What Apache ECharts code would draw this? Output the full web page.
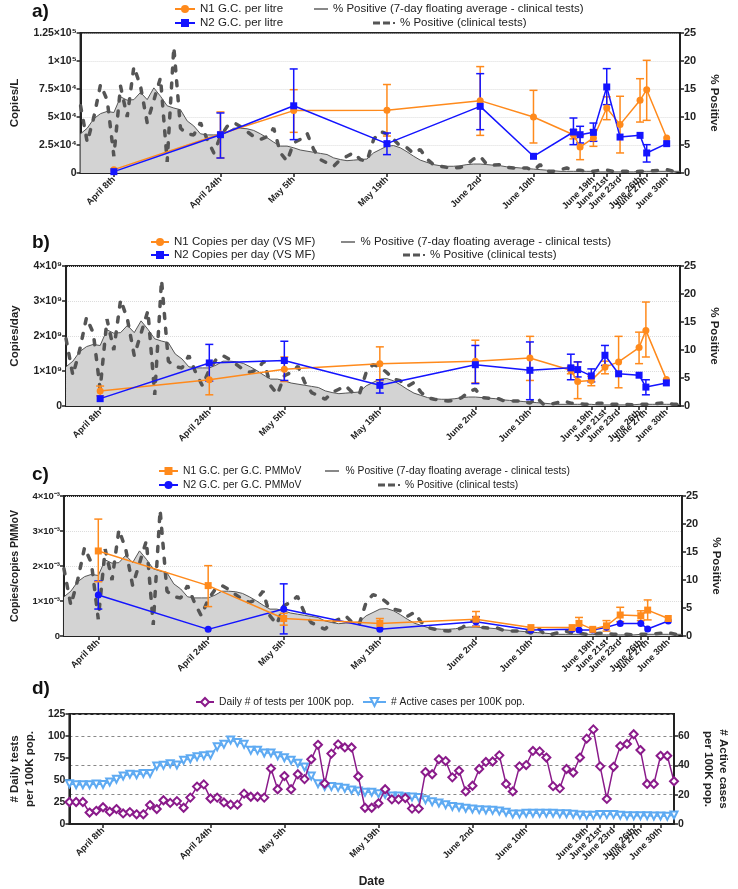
<!DOCTYPE html>
<html>
<head>
<meta charset="utf-8">
<script src="https://cdn.jsdelivr.net/npm/echarts/dist/echarts.min.js"></script>
<style>
  html, body { margin: 0; padding: 0; background: #fff; }
  #chart { width: 738px; height: 889px; }
</style>
</head>
<body>
<div id="chart"></div>
<script>
// x values are days counted from April 8th (day 0)
var tickDays = [0, 16, 27, 41, 55, 63, 72, 74, 76, 79, 80, 83];
var tickLabels = ['April 8th', 'April 24th', 'May 5th', 'May 19th', 'June 2nd', 'June 10th',
  'June 19th', 'June 21st', 'June 23rd', 'June 26th', 'June 27th', 'June 30th'];

// daily clinical series start on April 3rd (day -5)
var firstDay = -5;
var pctPositive7day = [
  7.0, 8.0, 9.7, 10.6, 11.0,
  10.8, 13.6, 13.0, 13.1, 14.4, 13.1, 15.2, 13.7, 12.0, 11.6,
  11.3, 9.3, 8.4, 7.0, 6.8, 6.8, 6.8, 7.3, 8.0, 8.0,
  7.9, 7.6, 7.0, 6.3, 5.5, 4.8, 4.8, 4.5, 4.1, 3.9,
  3.7, 3.5, 3.3, 2.7, 2.4, 2.2, 2.3, 2.4, 2.5, 3.6,
  4.2, 4.8, 4.9, 4.5, 3.8, 3.0, 2.3, 1.9, 1.5, 1.3,
  1.2, 1.2, 1.3, 1.5, 1.6, 1.6, 1.5, 1.4, 1.3, 1.1,
  1.0, 0.9, 0.8, 0.7, 0.6, 0.5, 0.4, 0.3, 0.3, 0.3,
  0.3, 0.3, 0.3, 0.2, 0.2, 0.2, 0.2, 0.2, 0.2, 0.3,
  0.3, 0.3, 0.3, 0.3, 0.3, 0.3
];
var pctPositiveDaily = [
  12.0, 5.5, 10.0, 15.8, 13.0,
  3.0, 15.5, 10.0, 19.0, 15.5, 9.0, 13.0, 17.0, 2.0, 22.5,
  8.0, 7.0, 6.8, 9.0, 6.0, 3.6, 6.5, 8.3, 9.0, 8.3,
  7.4, 6.5, 6.0, 6.5, 8.0, 3.6, 2.1, 5.4, 6.0, 7.1,
  4.2, 2.4, 1.8, 1.2, 2.4, 3.0, 3.6, 2.4, 2.1, 6.0,
  7.4, 7.0, 6.0, 4.8, 4.5, 3.5, 4.2, 2.5, 1.5, 1.2,
  1.0, 0.9, 1.0, 1.5, 2.5, 3.0, 1.5, 1.4, 1.5, 1.0,
  0.9, 0.9, 0.9, 0.5, 1.5, 0.3, 0.3, 0.6, 0.9, 0.5,
  0.5, 0.3, 0.3, 0.5, 0.5, 0.3, 0.3, 0.3, 0.2, 0.3,
  0.3, 0.4, 0.5, 0.6, 0.3, 0.3
];
var testsPer100k = [
  25, 25, 25, 13, 15,
  19, 14, 17, 12, 13.5, 11, 11, 21.5, 17, 27,
  24, 26, 18.5, 30, 42.5, 45, 29, 30, 24.5, 22,
  22, 34.5, 31, 31, 30, 63, 39.5, 54.5, 39.5, 56.5,
  51, 73.5, 90, 46, 80, 90.5, 87, 87, 54, 18.5,
  18.5, 23.5, 39.5, 28, 28, 29.5, 17.5, 17.5, 59, 56.5,
  73.5, 71.5, 53, 60.5, 37, 43.5, 62.5, 70.5, 71, 78,
  45.5, 37, 65.5, 67, 83, 82.5, 75.5, 43, 40.5, 62.5,
  58.5, 75.5, 97, 107.5, 65.5, 28.5, 65, 88.5, 91, 102,
  84, 45.5, 45.5, 77.5, 77.5, 48.5
];
var activePer100k = [
  27.5, 26.8, 26.8, 26.8, 27.3,
  27.0, 28.6, 30.5, 32.7, 33.9, 33.6, 34.5, 34.5, 39.5, 40.0,
  41.1, 40.2, 43.4, 44.5, 45.9, 46.6, 47.0, 52.7, 54.3, 57.3,
  55.5, 54.3, 50.2, 50.2, 48.4, 48.4, 46.6, 45.2, 43.4, 41.4,
  38.9, 32.7, 27.5, 25.5, 25.5, 25.0, 24.3, 23.2, 22.5, 21.6,
  21.6, 20.7, 20.2, 19.1, 19.1, 18.6, 18.4, 18.0, 16.6, 15.2,
  14.3, 13.2, 12.0, 11.4, 10.7, 10.2, 9.8, 9.5, 9.3, 8.9,
  8.0, 6.8, 6.8, 7.3, 7.3, 7.3, 7.3, 7.3, 7.0, 7.0,
  6.6, 6.1, 5.9, 5.9, 6.4, 6.4, 6.4, 5.9, 5.7, 5.7,
  5.7, 5.7, 5.5, 5.5, 5.2, 6.1
];

// wastewater sampling days
var sampleDays = [0, 16, 27, 41, 55, 63, 69, 70, 72, 74, 76, 79, 80, 83];

var n1PerLitre     = [3000, 34800, 55700, 56000, 64600, 50000, 34200, 23200, 31300, 58000, 43200, 64900, 74400, 31300];
var n1PerLitreLow  = [null, 13400, 36300, 33000, 33600, 26800, 30500, 11900, 23800, 47600, 17900, 45500, 47000, null];
var n1PerLitreHigh = [null, 54500, 74400, 79000, 95000, 73800, 38500, 33300, 38700, 68000, 68500, 84200, 100600, null];
var n2PerLitre     = [1200, 34200, 60000, 26200, 59500, 14900, 36600, 34200, 36300, 76800, 32100, 33600, 17900, 26200];
var n2PerLitreLow  = [null, 13400, 29800, 16400, 38700, null, 25300, 26800, 28300, 61000, null, null, 9800, null];
var n2PerLitreHigh = [null, 53600, 92900, 35700, 88700, null, 49100, 41700, 44600, 93200, null, null, 25300, null];

var n1PerDay     = [0.43e9, 0.75e9, 1.05e9, 1.21e9, 1.28e9, 1.37e9, 1.02e9, 0.70e9, 0.73e9, 1.11e9, 1.26e9, 1.67e9, 2.16e9, 0.76e9];
var n1PerDayLow  = [0.29e9, 0.32e9, 0.70e9, 0.73e9, 0.66e9, 0.73e9, 0.92e9, 0.21e9, 0.58e9, 0.92e9, 0.52e9, 1.21e9, 1.40e9, null];
var n1PerDayHigh = [0.57e9, 1.18e9, 1.40e9, 1.69e9, 1.88e9, 1.99e9, 1.13e9, 1.26e9, 0.85e9, 1.28e9, 1.99e9, 2.11e9, 2.97e9, null];
var n2PerDay     = [0.21e9, 1.23e9, 1.30e9, 0.59e9, 1.18e9, 1.02e9, 1.09e9, 1.04e9, 0.86e9, 1.45e9, 0.92e9, 0.88e9, 0.54e9, 0.66e9];
var n2PerDayLow  = [null, 0.71e9, 0.73e9, 0.37e9, 0.64e9, 0.18e9, 0.75e9, 0.83e9, 0.69e9, 1.16e9, null, null, 0.32e9, null];
var n2PerDayHigh = [null, 1.76e9, 1.85e9, 0.75e9, 1.73e9, 1.83e9, 1.48e9, 1.26e9, 1.06e9, 1.73e9, null, null, 0.75e9, null];

var n1PerPmmov     = [2.43e-3, 1.44e-3, 0.50e-3, 0.36e-3, 0.48e-3, 0.24e-3, 0.24e-3, 0.36e-3, 0.19e-3, 0.29e-3, 0.60e-3, 0.58e-3, 0.74e-3, 0.50e-3];
var n1PerPmmovLow  = [1.55e-3, 0.84e-3, 0.31e-3, 0.22e-3, 0.27e-3, null, null, 0.17e-3, null, 0.14e-3, 0.41e-3, 0.44e-3, 0.46e-3, null];
var n1PerPmmovHigh = [3.34e-3, 2.01e-3, 0.65e-3, 0.50e-3, 0.70e-3, null, null, 0.53e-3, null, 0.44e-3, 0.82e-3, 0.72e-3, 1.03e-3, null];
var n2PerPmmov     = [1.17e-3, 0.19e-3, 0.77e-3, 0.19e-3, 0.41e-3, 0.17e-3, 0.19e-3, 0.17e-3, 0.17e-3, 0.25e-3, 0.36e-3, 0.36e-3, 0.20e-3, 0.43e-3];
var n2PerPmmovLow  = [0.77e-3, null, 0.06e-3, null, 0.28e-3, null, null, null, null, null, null, null, null, null];
var n2PerPmmovHigh = [1.57e-3, null, 1.49e-3, null, 0.55e-3, null, null, null, null, null, null, null, null, null];

var ORANGE = '#ff8a1c', BLUE = '#1414ff', DARK = '#555555', FILL = '#d3d3d3';
var PURPLE = '#8a1a8a', SKY = '#5eaaf2';
var FONT = '"Liberation Sans", Arial, sans-serif';
var POS7 = '% Positive (7-day floating average - clinical tests)';
var POSD = '% Positive (clinical tests)';
var ICON_SOLID = 'path://M0,0H14V1.4H0Z';
var ICON_DASH = 'path://M0,0H7V3H0Z M10,0H17V3H10Z M20,0.5H22V2.5H20Z';

var dailyDays = [];
for (var k = 0; k < pctPositiveDaily.length; k++) dailyDays.push(firstDay + k);

function pairs(days, vals) {
  var out = [];
  for (var i = 0; i < days.length; i++) if (vals[i] != null) out.push([days[i], vals[i]]);
  return out;
}
function bars(days, lo, hi) {
  var out = [];
  for (var i = 0; i < days.length; i++) if (lo[i] != null && hi[i] != null) out.push([days[i], lo[i], hi[i]]);
  return out;
}

var SUP = { '-': '⁻', '0': '⁰', '1': '¹', '2': '²', '3': '³', '4': '⁴', '5': '⁵', '6': '⁶', '7': '⁷', '8': '⁸', '9': '⁹' };
function sci(v) {
  if (v === 0) return '0';
  var e = Math.floor(Math.log10(v) + 1e-9);
  var m = +(v / Math.pow(10, e)).toFixed(3);
  return m + '×10' + String(e).split('').map(function (c) { return SUP[c]; }).join('');
}

var chart = echarts.init(document.getElementById('chart'));

var grids = [
  { left: 57, right: 58, top: 33, height: 140 },
  { left: 61, right: 58, top: 266, height: 140 },
  { left: 61, right: 56, top: 496, height: 140 },
  { left: 61, right: 54, top: 714, height: 111 }
].map(function (g) {
  g.show = true; g.borderColor = '#222'; g.borderWidth = 2; g.backgroundColor = 'transparent';
  return g;
});

function xAxis(i) {
  return {
    type: 'value', gridIndex: i, min: -5, max: 85,
    axisLine: { show: true, onZero: false, lineStyle: { color: '#222', width: 2 } },
    axisTick: { show: true, customValues: tickDays, length: 4, lineStyle: { color: '#222', width: 1.5 } },
    axisLabel: {
      customValues: tickDays, rotate: 45, fontSize: 9, fontWeight: 'bold', color: '#222',
      fontFamily: FONT, margin: 5,
      formatter: function (v) { var j = tickDays.indexOf(v); return j < 0 ? '' : tickLabels[j]; }
    },
    splitLine: { show: false }
  };
}

function yAxis(i, pos, max, interval, name, gap, fmt, nameSize, split) {
  return {
    type: 'value', gridIndex: i, position: pos, min: 0, max: max, interval: interval,
    name: name, nameLocation: 'middle', nameGap: gap, nameRotate: pos === 'left' ? 90 : -90,
    nameTextStyle: { fontSize: nameSize, fontWeight: 'bold', color: '#222', fontFamily: FONT, lineHeight: nameSize + 3 },
    axisLine: { show: true, onZero: false, lineStyle: { color: '#222', width: 2 } },
    axisTick: { show: true, length: 4, lineStyle: { color: '#222', width: 1.5 } },
    axisLabel: { fontSize: pos === 'left' && fmt ? 10.5 : 11, fontWeight: 'bold', color: '#222', fontFamily: FONT, margin: 4, formatter: fmt },
    splitLine: split ? { show: true, lineStyle: split } : { show: false }
  };
}

var faintGrid = { color: '#dcdcdc', type: 'dotted', width: 1 };

var xAxes = [xAxis(0), xAxis(1), xAxis(2), xAxis(3)];
xAxes[3].name = 'Date';
xAxes[3].nameLocation = 'middle';
xAxes[3].nameGap = 52;
xAxes[3].nameTextStyle = { fontSize: 12, fontWeight: 'bold', color: '#222', fontFamily: FONT };

var yAxes = [
  yAxis(0, 'left', 125000, 25000, 'Copies/L', 41, sci, 11.5, faintGrid),
  yAxis(0, 'right', 25, 5, '% Positive', 25, null, 11.5, null),
  yAxis(1, 'left', 4e9, 1e9, 'Copies/day', 40, sci, 11.5, faintGrid),
  yAxis(1, 'right', 25, 5, '% Positive', 25, null, 11.5, null),
  yAxis(2, 'left', 4e-3, 1e-3, 'Copies/copies PMMoV', 40, sci, 10.5, faintGrid),
  yAxis(2, 'right', 25, 5, '% Positive', 25, null, 11.5, null),
  yAxis(3, 'left', 125, 25, '# Daily tests\nper 100K pop.', 28, null, 11.5, null),
  yAxis(3, 'right', 75, 20, '# Active cases\nper 100K pop.', 27, null, 11.5, { color: '#888', type: [3, 3], width: 1 })
];
yAxes[4].axisLabel.fontSize = 9.5;
yAxes[7].axisLabel.showMaxLabel = false;
yAxes[6].axisLabel.fontSize = 10.5;
yAxes[7].axisLabel.fontSize = 10.5;

function clinical(i, ri) {
  return [
    {
      type: 'line', name: POS7, xAxisIndex: i, yAxisIndex: ri, data: pairs(dailyDays, pctPositive7day),
      symbol: 'none', lineStyle: { color: DARK, width: 1 }, itemStyle: { color: DARK },
      areaStyle: { color: FILL, opacity: 1 }, z: 1, silent: true
    },
    {
      type: 'line', name: POSD, xAxisIndex: i, yAxisIndex: ri, data: pairs(dailyDays, pctPositiveDaily),
      symbol: 'none', lineStyle: { color: DARK, width: 3.5, type: [5, 10], cap: 'round' },
      itemStyle: { color: DARK }, z: 2, silent: true
    }
  ];
}

function measure(i, li, name, vals, color, symbol) {
  return {
    type: 'line', name: name, xAxisIndex: i, yAxisIndex: li, data: pairs(sampleDays, vals),
    symbol: symbol, symbolSize: 7, showAllSymbol: true,
    lineStyle: { color: color, width: 1.5 }, itemStyle: { color: color }, z: 3
  };
}

function errorBars(i, li, lo, hi, color) {
  return {
    type: 'custom', xAxisIndex: i, yAxisIndex: li, z: 3, silent: true,
    encode: { x: 0, y: [1, 2] },
    data: bars(sampleDays, lo, hi),
    renderItem: function (params, api) {
      var x = api.value(0);
      var l = api.coord([x, api.value(1)]);
      var h = api.coord([x, api.value(2)]);
      var w = 4;
      var st = { stroke: color, lineWidth: 1.5 };
      return {
        type: 'group', children: [
          { type: 'line', shape: { x1: l[0], y1: l[1], x2: h[0], y2: h[1] }, style: st },
          { type: 'line', shape: { x1: l[0] - w, y1: l[1], x2: l[0] + w, y2: l[1] }, style: st },
          { type: 'line', shape: { x1: h[0] - w, y1: h[1], x2: h[0] + w, y2: h[1] }, style: st }
        ]
      };
    }
  };
}

var series = [].concat(
  clinical(0, 1),
  [
    measure(0, 0, 'N1 G.C. per litre', n1PerLitre, ORANGE, 'circle'),
    errorBars(0, 0, n1PerLitreLow, n1PerLitreHigh, ORANGE),
    measure(0, 0, 'N2 G.C. per litre', n2PerLitre, BLUE, 'rect'),
    errorBars(0, 0, n2PerLitreLow, n2PerLitreHigh, BLUE)
  ],
  clinical(1, 3),
  [
    measure(1, 2, 'N1 Copies per day (VS MF)', n1PerDay, ORANGE, 'circle'),
    errorBars(1, 2, n1PerDayLow, n1PerDayHigh, ORANGE),
    measure(1, 2, 'N2 Copies per day (VS MF)', n2PerDay, BLUE, 'rect'),
    errorBars(1, 2, n2PerDayLow, n2PerDayHigh, BLUE)
  ],
  clinical(2, 5),
  [
    measure(2, 4, 'N2 G.C. per G.C. PMMoV', n2PerPmmov, BLUE, 'circle'),
    errorBars(2, 4, n2PerPmmovLow, n2PerPmmovHigh, BLUE),
    measure(2, 4, 'N1 G.C. per G.C. PMMoV', n1PerPmmov, ORANGE, 'rect'),
    errorBars(2, 4, n1PerPmmovLow, n1PerPmmovHigh, ORANGE)
  ],
  [
    {
      type: 'line', name: '# Active cases per 100K pop.', xAxisIndex: 3, yAxisIndex: 7,
      data: pairs(dailyDays, activePer100k), symbol: 'emptyTriangle', symbolRotate: 180, symbolSize: 7,
      showAllSymbol: true, lineStyle: { color: SKY, width: 1.5 }, itemStyle: { color: SKY, borderWidth: 1 }, z: 3
    },
    {
      type: 'line', name: 'Daily # of tests per 100K pop.', xAxisIndex: 3, yAxisIndex: 6,
      data: pairs(dailyDays, testsPer100k), symbol: 'emptyDiamond', symbolSize: 8,
      showAllSymbol: true, lineStyle: { color: PURPLE, width: 1.5 }, itemStyle: { color: PURPLE, borderWidth: 1.5 }, z: 4
    }
  ]
);

function legendItem(name, left, top, w, fs, icon, h) {
  var item = icon ? { name: name, icon: icon } : name;
  return {
    data: [item], left: left, top: top, itemWidth: w, itemHeight: h || 10, padding: 0,
    selectedMode: false, textStyle: { fontSize: fs, color: '#222', fontFamily: FONT }
  };
}

var legends = [
  legendItem('N1 G.C. per litre', 174, 3, 20, 11.5),
  legendItem('N2 G.C. per litre', 174, 17, 20, 11.5),
  legendItem(POS7, 314, 3, 14, 11.5, ICON_SOLID, 1.4),
  legendItem(POSD, 373, 17, 22, 11.5, ICON_DASH, 3),

  legendItem('N1 Copies per day (VS MF)', 150, 236, 18, 11.5),
  legendItem('N2 Copies per day (VS MF)', 150, 249, 18, 11.5),
  legendItem(POS7, 341, 236, 15, 11.5, ICON_SOLID, 1.4),
  legendItem(POSD, 403, 249, 22, 11.5, ICON_DASH, 3),

  legendItem('N1 G.C. per G.C. PMMoV', 158, 466, 19, 10.3),
  legendItem('N2 G.C. per G.C. PMMoV', 158, 480, 19, 10.3),
  legendItem(POS7, 325, 466, 17, 10.3, ICON_SOLID, 1.4),
  legendItem(POSD, 378, 480, 22, 10.3, ICON_DASH, 3),

  legendItem('Daily # of tests per 100K pop.', 195, 697, 18, 10.3),
  legendItem('# Active cases per 100K pop.', 362, 697, 23, 10.3)
];

function panelTitle(text, top) {
  return { text: text, left: 32, top: top, padding: 0, textStyle: { fontSize: 19, fontWeight: 'bold', color: '#111', fontFamily: FONT } };
}

chart.setOption({
  animation: false,
  backgroundColor: '#fff',
  title: [panelTitle('a)', 2), panelTitle('b)', 233), panelTitle('c)', 465), panelTitle('d)', 679)],
  legend: legends,
  grid: grids,
  xAxis: xAxes,
  yAxis: yAxes,
  series: series
});
</script>
</body>
</html>
